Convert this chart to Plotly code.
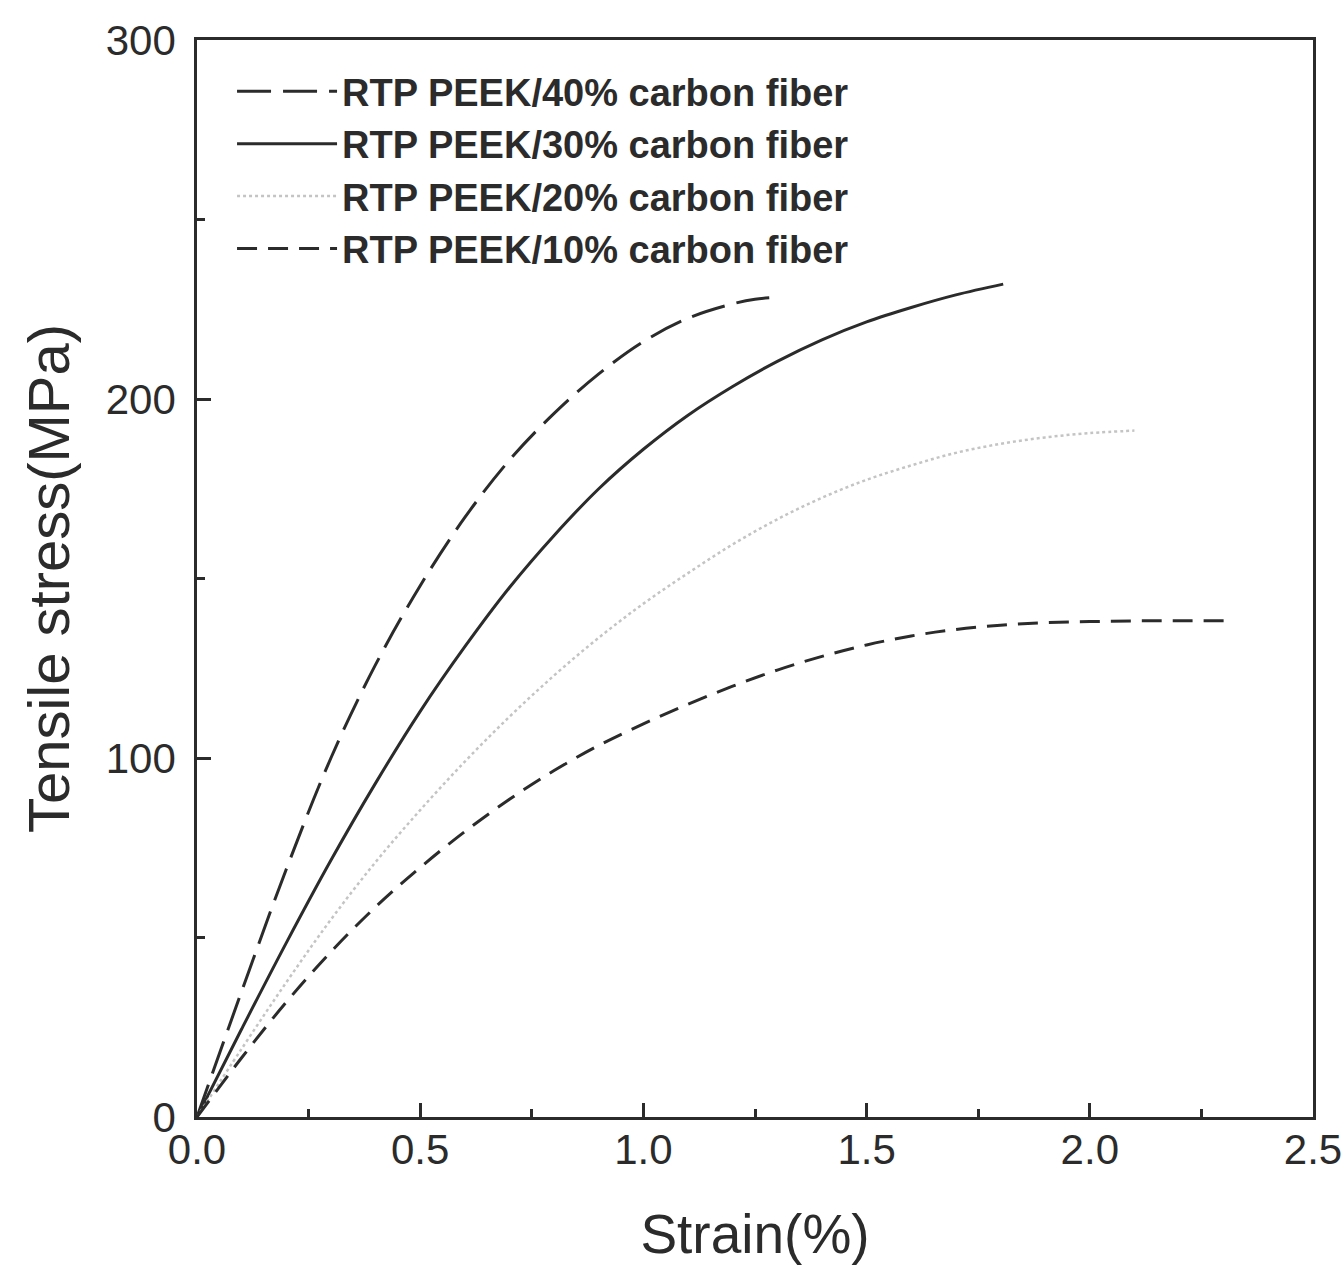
import plotly.graph_objects as go

# Tensile stress-strain curves of RTP PEEK with different carbon-fiber loadings
strain_40 = [0.0, 0.1, 0.2, 0.3, 0.4, 0.5, 0.6, 0.7, 0.8, 0.9, 1.0, 1.1, 1.2, 1.25, 1.3]
stress_40 = [0.0, 35.0, 69.0, 100.0, 126.0, 148.0, 167.0, 183.0, 196.0, 207.0, 216.0, 222.5, 226.5, 227.8, 228.3]

strain_30 = [0.0, 0.1, 0.2, 0.3, 0.4, 0.5, 0.6, 0.7, 0.8, 0.9, 1.0, 1.1, 1.2, 1.3, 1.4, 1.5, 1.6, 1.7, 1.806]
stress_30 = [0.0, 24.5, 48.5, 71.5, 93.0, 113.0, 131.0, 147.5, 162.0, 175.0, 186.0, 195.5, 203.5, 210.5, 216.5,
             221.5, 225.5, 229.0, 232.0]

strain_20 = [0.0, 0.1, 0.2, 0.3, 0.4, 0.5, 0.6, 0.7, 0.8, 0.9, 1.0, 1.1, 1.2, 1.3, 1.4, 1.5, 1.6, 1.7, 1.8,
             1.9, 2.0, 2.1]
stress_20 = [0.0, 19.0, 37.5, 55.0, 71.0, 85.5, 99.0, 111.5, 123.0, 133.5, 143.0, 151.5, 159.5, 166.5, 172.5,
             177.5, 181.5, 185.0, 187.5, 189.3, 190.5, 191.2]

strain_10 = [0.0, 0.1, 0.2, 0.3, 0.4, 0.5, 0.6, 0.7, 0.8, 0.9, 1.0, 1.1, 1.2, 1.3, 1.4, 1.5, 1.6, 1.7, 1.8,
             1.9, 2.0, 2.1, 2.2, 2.31]
stress_10 = [0.0, 16.5, 32.0, 46.0, 58.5, 69.5, 79.5, 88.5, 96.5, 103.5, 109.5, 115.0, 120.0, 124.5, 128.3,
             131.5, 134.0, 135.8, 137.0, 137.7, 138.0, 138.2, 138.2, 138.2]

series_names = [
    "RTP PEEK/40% carbon fiber",
    "RTP PEEK/30% carbon fiber",
    "RTP PEEK/20% carbon fiber",
    "RTP PEEK/10% carbon fiber",
]

x_ticks = [0.0, 0.5, 1.0, 1.5, 2.0, 2.5]
x_tick_text = ["0.0", "0.5", "1.0", "1.5", "2.0", "2.5"]
y_ticks = [0, 100, 200, 300]
y_tick_text = ["0", "100", "200", "300"]

ink = "#2b2b2b"
font_family = "Liberation Sans, Arial, sans-serif"

fig = go.Figure()
fig.add_trace(go.Scatter(x=strain_40, y=stress_40, mode="lines", name=series_names[0],
                         line=dict(color=ink, width=3, dash="34px,12px"), line_shape="spline"))
fig.add_trace(go.Scatter(x=strain_30, y=stress_30, mode="lines", name=series_names[1],
                         line=dict(color=ink, width=3), line_shape="spline"))
fig.add_trace(go.Scatter(x=strain_20, y=stress_20, mode="lines", name=series_names[2],
                         line=dict(color="#c4c4c4", width=2.5, dash="dot"), line_shape="spline"))
fig.add_trace(go.Scatter(x=strain_10, y=stress_10, mode="lines", name=series_names[3],
                         line=dict(color=ink, width=3, dash="20px,11px"), line_shape="spline"))

axis_font = dict(family=font_family, size=42, color=ink)

fig.update_layout(
    width=1343, height=1265,
    margin=dict(l=197, r=30, t=40, b=148),
    paper_bgcolor="white", plot_bgcolor="white",
    showlegend=True,
    legend=dict(
        x=0.0314, y=0.9814, xanchor="left", yanchor="top",
        bgcolor="rgba(0,0,0,0)",
        font=dict(family=font_family, size=38, color=ink, weight="bold"),
        itemwidth=100, tracegroupgap=0,
    ),
    xaxis=dict(
        range=[0, 2.5], tickvals=x_ticks, ticktext=x_tick_text,
        ticks="inside", ticklen=14, tickwidth=2.5, tickcolor=ink,
        minor=dict(dtick=0.25, ticks="inside", ticklen=8, tickwidth=2.5, tickcolor=ink),
        showline=True, linecolor=ink, linewidth=2.5, mirror=True,
        showgrid=False, zeroline=False, automargin=False,
        tickfont=axis_font, ticklabelstandoff=-6,
        title=dict(text="Strain(%)", font=dict(family=font_family, size=55, color=ink), standoff=46),
    ),
    yaxis=dict(
        range=[0, 300], tickvals=y_ticks, ticktext=y_tick_text,
        ticks="inside", ticklen=14, tickwidth=2.5, tickcolor=ink,
        minor=dict(dtick=50, ticks="inside", ticklen=8, tickwidth=2.5, tickcolor=ink),
        showline=True, linecolor=ink, linewidth=2.5, mirror=True,
        showgrid=False, zeroline=False, automargin=False,
        tickfont=axis_font, ticklabelstandoff=10,
        title=dict(text="Tensile stress(MPa)", font=dict(family=font_family, size=58, color=ink), standoff=18),
    ),
)

fig.write_html("out.html")
